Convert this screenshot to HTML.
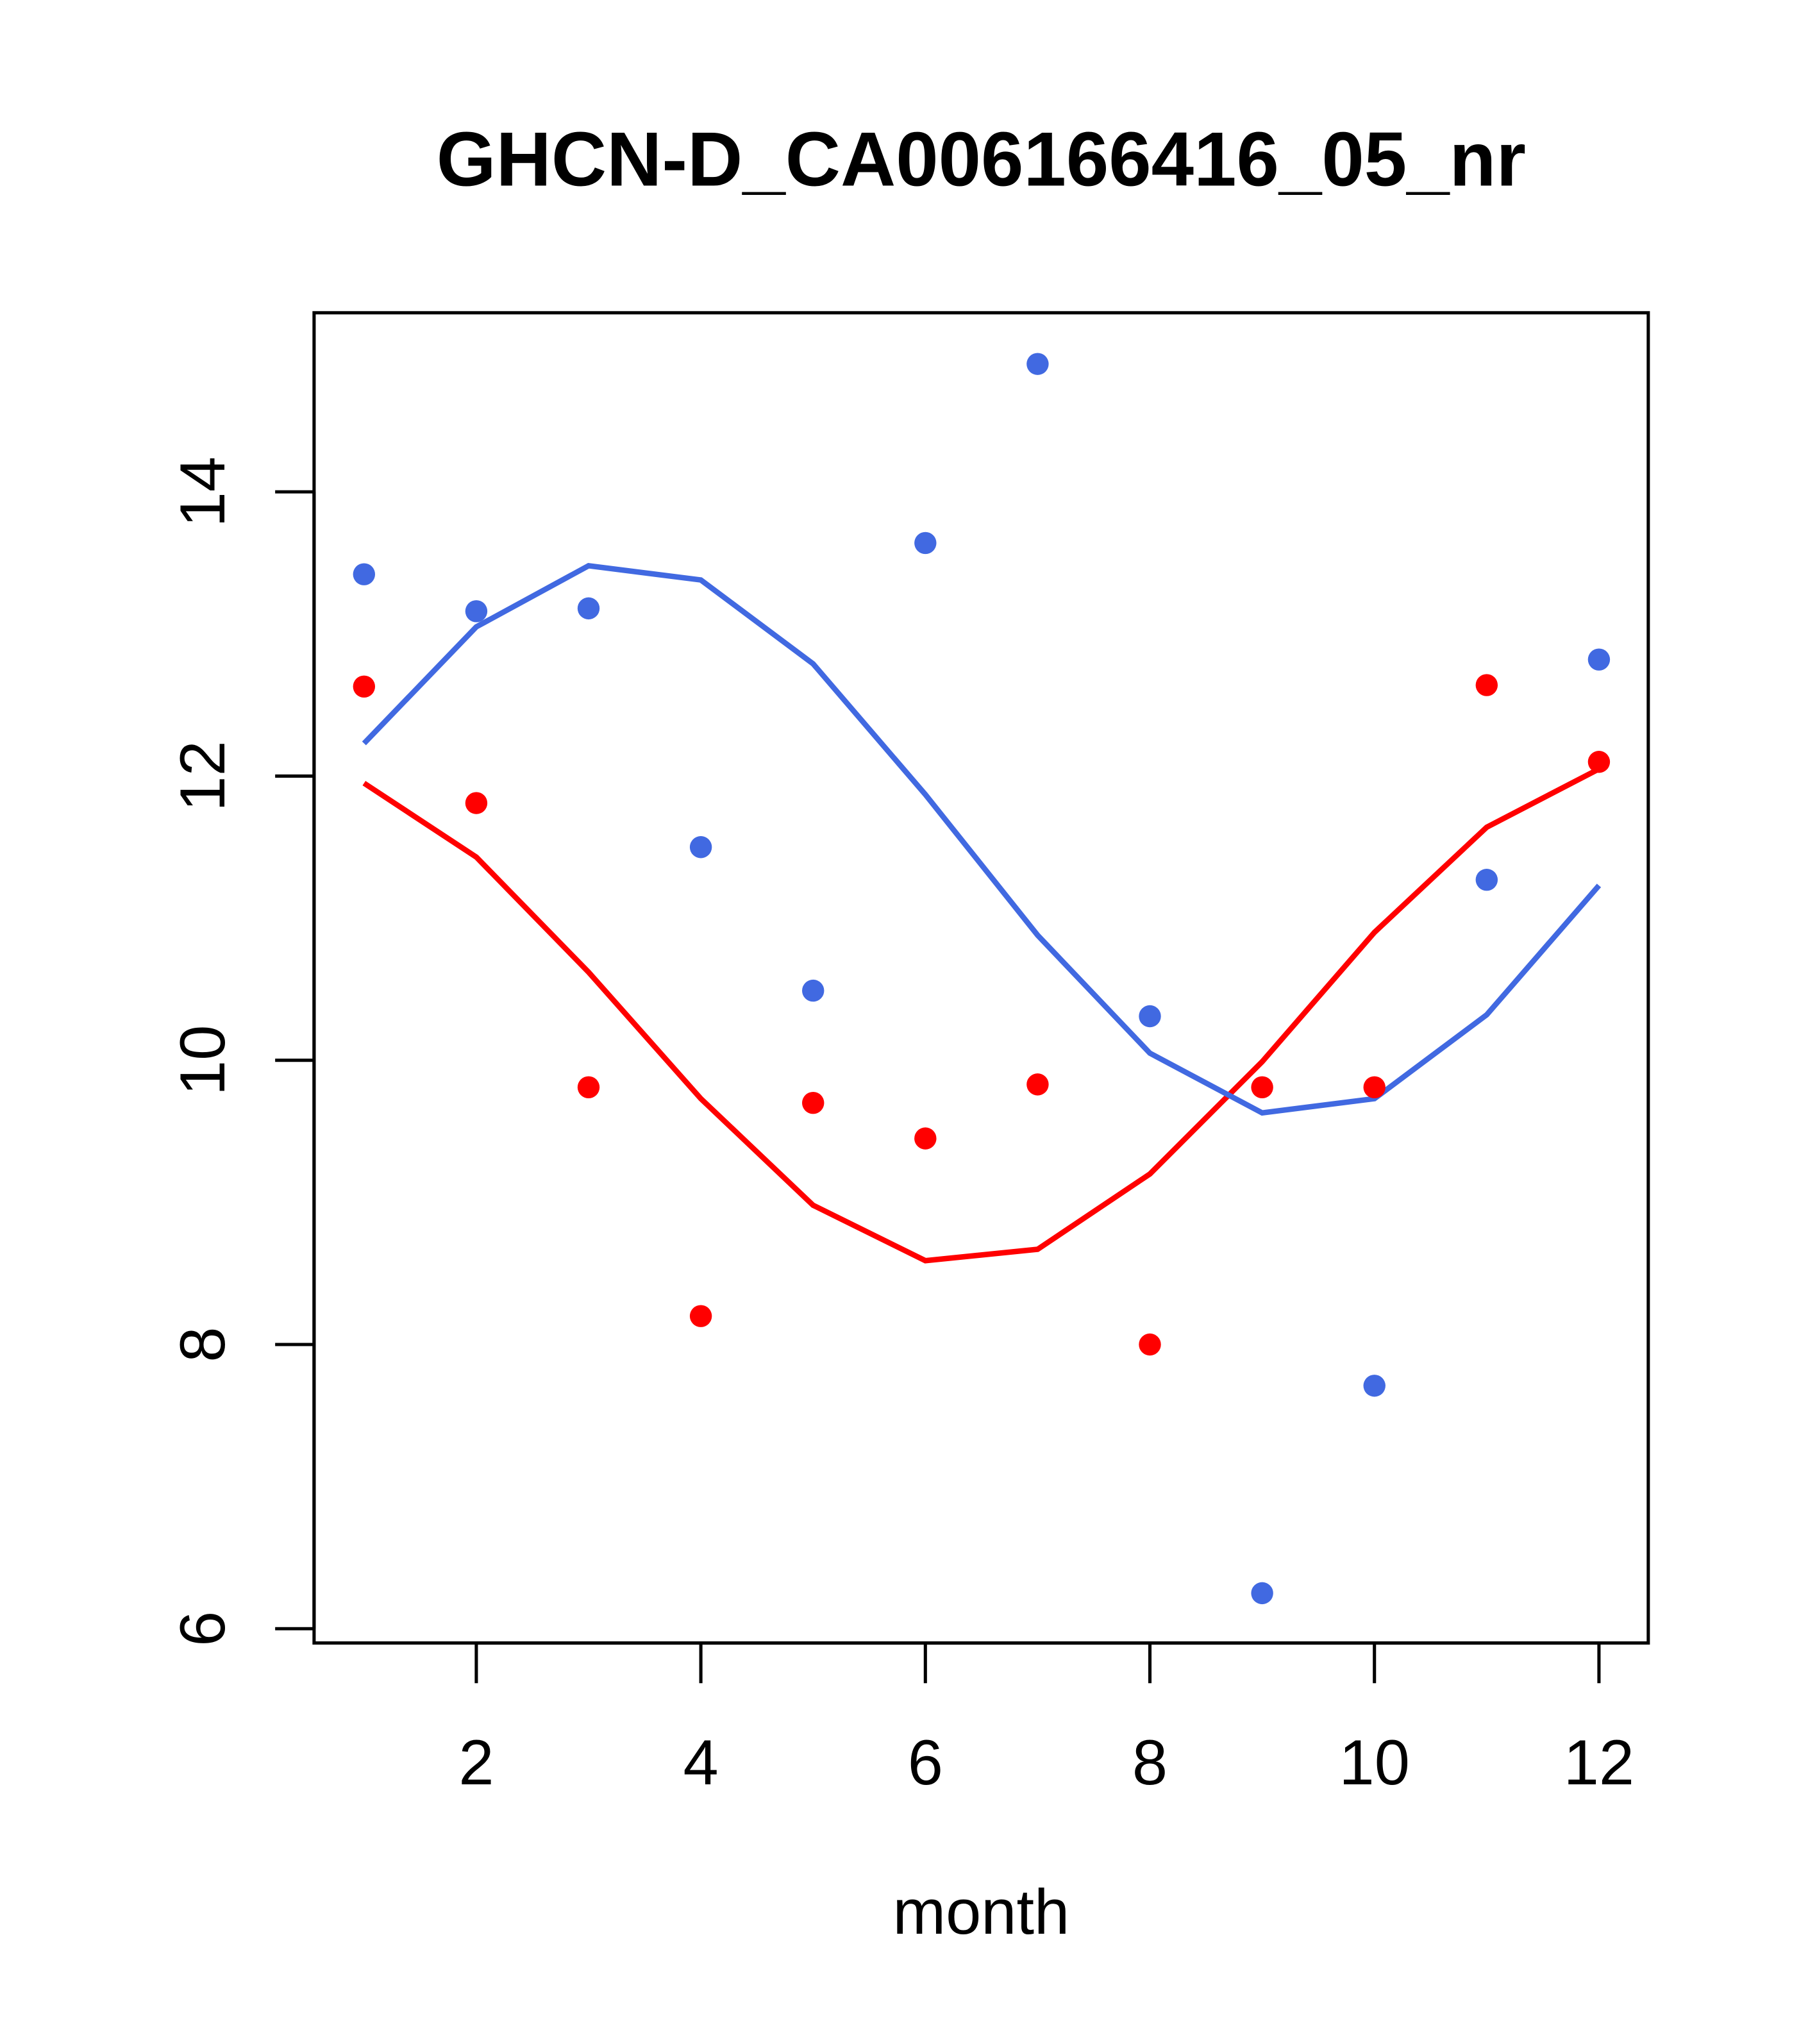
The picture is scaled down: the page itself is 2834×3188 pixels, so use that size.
<!DOCTYPE html>
<html><head><meta charset="utf-8"><style>
html,body{margin:0;padding:0;background:#fff;}
svg{display:block;}
text{font-family:"Liberation Sans",sans-serif;fill:#000;}
</style></head><body>
<svg id="chart" width="2834" height="3188" viewBox="0 0 1400 1575" preserveAspectRatio="none" xmlns="http://www.w3.org/2000/svg">
<text x="756" y="143" font-size="59" font-weight="bold" text-anchor="middle">GHCN-D_CA006166416_05_nr</text>
<rect x="242" y="241" width="1028" height="1025" fill="none" stroke="#000" stroke-width="2.5"/>
<g id="xaxis"></g>
<g id="yaxis"></g>
<g id="series"></g>
<text x="756" y="1490" font-size="49" text-anchor="middle">month</text>
</svg>
<script>
const months=[1,2,3,4,5,6,7,8,9,10,11,12];
const bluePoints=[13.42,13.16,13.18,11.50,10.49,13.64,14.90,10.31,6.25,7.71,11.27,12.82];
const redPoints=[12.63,11.81,9.81,8.20,9.70,9.45,9.83,8.00,9.81,9.81,12.64,12.10];
const blueLine=[12.23,13.05,13.48,13.38,12.79,11.87,10.88,10.05,9.63,9.73,10.32,11.23];
const redLine=[11.95,11.43,10.62,9.73,8.98,8.59,8.67,9.20,9.99,10.90,11.64,12.05];
const xTicks=[2,4,6,8,10,12];
const yTicks=[6,8,10,12,14];
const NS="http://www.w3.org/2000/svg";
function X(m){return 280.5+(m-1)*86.5;}
function Y(v){return 1255-(v-6)*109.5;}
function mk(tag,attrs,parent){const e=document.createElementNS(NS,tag);for(const k in attrs)e.setAttribute(k,attrs[k]);parent.appendChild(e);return e;}
const xa=document.getElementById('xaxis'),ya=document.getElementById('yaxis'),sg=document.getElementById('series');
mk('line',{x1:X(xTicks[0]),x2:X(xTicks[xTicks.length-1]),y1:1266,y2:1266,stroke:'#000','stroke-width':2.5},xa);
xTicks.forEach(t=>{
  const l=mk('line',{x1:X(t),x2:X(t),y1:1266,y2:1297,stroke:'#000','stroke-width':2.5},xa);
  
  
  const tx=mk('text',{x:X(t),y:1375,'font-size':49,'text-anchor':'middle'},xa);
  tx.textContent=t;
  
  
});
mk('line',{x1:242,x2:242,y1:Y(yTicks[0]),y2:Y(yTicks[yTicks.length-1]),stroke:'#000','stroke-width':2.5},ya);
yTicks.forEach(t=>{
  const l=mk('line',{x1:212,x2:242,y1:Y(t),y2:Y(t),stroke:'#000','stroke-width':2.5},ya);
  
  
  const tx=mk('text',{x:173,y:Y(t),'font-size':49,'text-anchor':'middle',transform:'rotate(-90 173 '+Y(t)+')'},ya);
  tx.textContent=t;
  
  
});
function line(vals,color,name){
  const p=mk('polyline',{points:months.map((m,i)=>X(m)+','+Y(vals[i])).join(' '),fill:'none',stroke:color,'stroke-width':4.2},sg);
  
  
}
function pts(vals,color,name){
  months.forEach((m,i)=>{
    const c=mk('circle',{cx:X(m),cy:Y(vals[i]),r:8.5,fill:color},sg);
    
    
  });
}
line(redLine,'#ff0000','red-smooth-line');
line(blueLine,'#4169e1','blue-smooth-line');
pts(redPoints,'#ff0000','red-point');
pts(bluePoints,'#4169e1','blue-point');
</script>
</body></html>
